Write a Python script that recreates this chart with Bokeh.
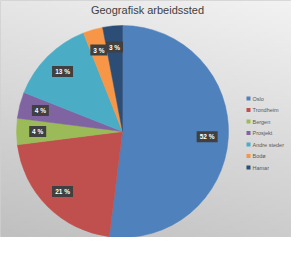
import numpy as np
from bokeh.plotting import figure
from bokeh.models import ColumnDataSource, Label
from bokeh.core.properties import value
from bokeh.embed import file_html
from bokeh.resources import INLINE

# ---- data ----
title = "Geografisk arbeidssted"
places = ["Oslo", "Trondheim", "Bergen", "Prosjekt", "Andre steder", "Bodø", "Hamar"]
shares = [52, 21, 4, 4, 13, 3, 3]
colors = ["#4F81BD", "#C0504D", "#9BBB59", "#8064A2", "#4BACC6", "#F79646", "#2C4D75"]

W, H = 291, 237
p = figure(width=W, height=H, x_range=(0, W), y_range=(0, H),
           output_backend="svg", toolbar_location=None, min_border=0)
p.axis.visible = False
p.grid.visible = False
p.outline_line_color = "#d0d0d0"
p.background_fill_color = "#e0e0e0"

# background gradient (decorative)
ny, nx = 60, 75
img = np.zeros((ny, nx), dtype=np.uint32)
view = img.view(dtype=np.uint8).reshape((ny, nx, 4))
for i in range(ny):
    v = 1 - i / (ny - 1)
    for j in range(nx):
        u = j / (nx - 1)
        g = int(242 - 38 * v - 12 * (1 - u))
        view[i, j] = (g, g, g, 255)
p.image_rgba(image=[img], x=0, y=0, dw=W, dh=H)

# pie
cx, cy, r = 122, 106, 106
tot = float(sum(shares))
fr = np.array(shares) / tot
cum_end = np.cumsum(fr)
cum_start = cum_end - fr
start = np.pi / 2 - 2 * np.pi * cum_start
end = np.pi / 2 - 2 * np.pi * cum_end
mid = (start + end) / 2
labels = [f"{s} %" for s in shares]
lr = 0.8 * r
src = ColumnDataSource(dict(
    start=start, end=end, color=colors,
    lx=cx + lr * np.cos(mid), ly=cy + lr * np.sin(mid),
    lab=labels, bw=[5 + 4 * len(t) for t in labels],
))
p.wedge(x=cx, y=cy, radius=r, start_angle="start", end_angle="end",
        direction="clock", fill_color="color", line_color="color", line_width=0.5,
        source=src)
p.rect(x="lx", y="ly", width="bw", height=11, width_units="screen", height_units="screen",
       fill_color="#404040", line_color=None, source=src)
p.text(x="lx", y="ly", text="lab", text_align="center", text_baseline="middle",
       text_color="white", text_font=value("Liberation Sans"), text_font_size="6.5px",
       text_font_style="bold", source=src)

# title
p.add_layout(Label(x=147, y=228, text=title, text_align="center", text_baseline="middle",
                   text_font="Liberation Sans", text_font_size="11px", text_color="#404040"))

# legend
n = len(places)
ly0 = np.array([237 - (98 + 11.5 * k) for k in range(n)])
lsrc = ColumnDataSource(dict(x=[248] * n, tx=[252] * n, y=ly0, c=colors, t=places))
p.rect(x="x", y="y", width=4, height=4, width_units="screen", height_units="screen",
       fill_color="c", line_color=None, source=lsrc)
p.text(x="tx", y="y", text="t", text_baseline="middle", text_color="#595959",
       text_font=value("Liberation Sans"), text_font_size="5.5px", source=lsrc)

open("out.html", "w").write(file_html(p, INLINE))
